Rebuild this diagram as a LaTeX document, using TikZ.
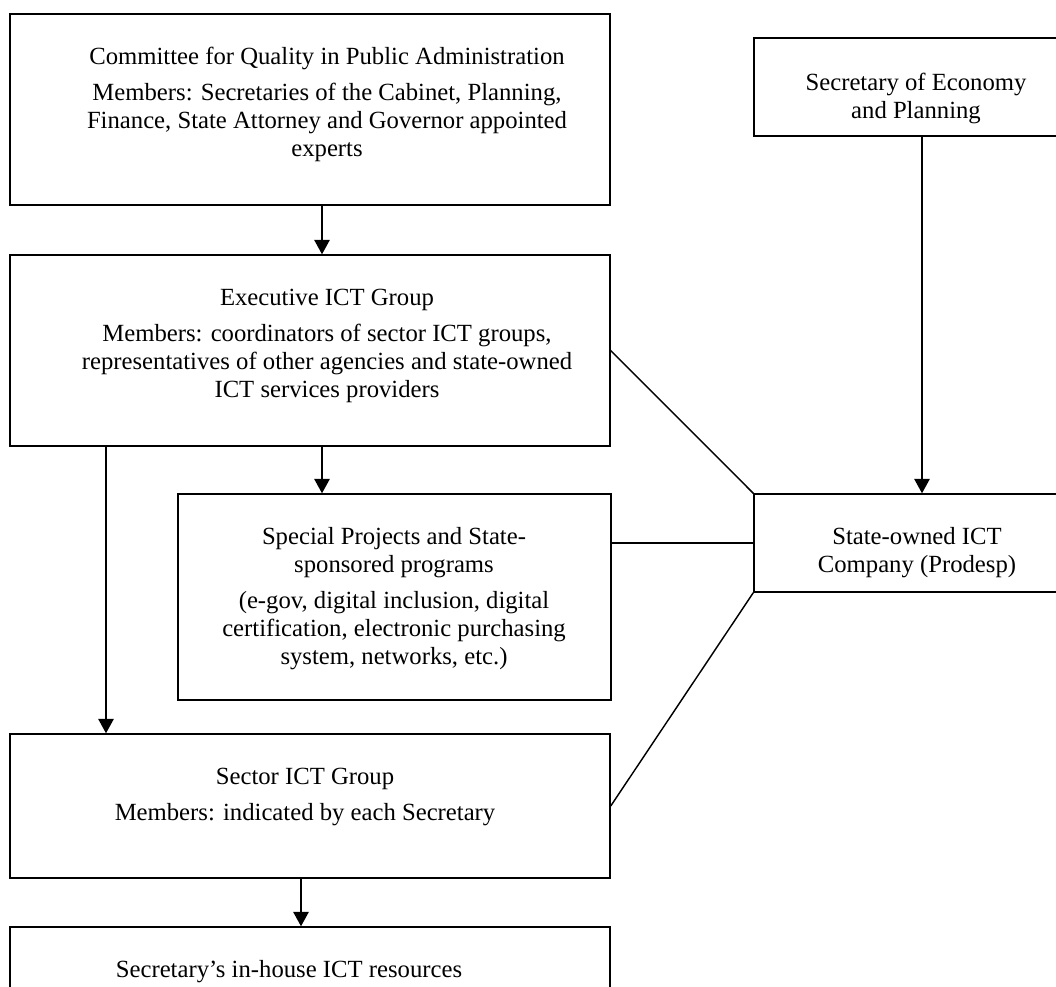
\documentclass[tikz,border=0pt]{standalone}
\usepackage{fontspec}
\setmainfont{Liberation Serif}
\usetikzlibrary{arrows.meta}
\newcommand\pxu{0.486pt}
\tikzset{
	box/.style 2 args={draw, line width=0.7pt, inner sep=0pt,
		minimum width=#1*\pxu, minimum height=#2*\pxu},
	txt/.style={align=center, inner sep=0pt, anchor=north,
		font=\fontsize{12}{13.6}\selectfont},
	link/.style={line width=0.7pt},
	arr/.style={link, -{Triangle[length=7pt,width=7.5pt]}}
}
\begin{document}
\begin{tikzpicture}[x=0.486pt,y=-0.486pt]
	\useasboundingbox (0,0) rectangle (1056,987);
	\clip (0,0) rectangle (1056,987);
	% boxes
	\node[box={600}{191}] (cqpa) at (310,109.5) {};
	\node[box={326}{98}] (econ) at (917,87) {};
	\node[box={600}{191}] (exec) at (310,350.5) {};
	\node[box={433}{206}] (spec) at (394.5,597) {};
	\node[box={326}{98}] (prod) at (917,543) {};
	\node[box={600}{144}] (sect) at (310,806) {};
	\node[box={600}{120}] (inh) at (310,987) {};
	% texts
	\node[txt] (cqpa-t) at (327,44.4) {\strut Committee for Quality in Public Administration\\[3.9pt]
		Members: Secretaries of the Cabinet, Planning,\\
		Finance, State Attorney and Governor appointed\\
		experts};
	\node[txt] (econ-t) at (916,70.4) {\strut Secretary of Economy\\ and Planning};
	\node[txt] (exec-t) at (327,285.4) {\strut Executive ICT Group\\[3.9pt]
		Members: coordinators of sector ICT groups,\\
		representatives of other agencies and state-owned\\
		ICT services providers};
	\node[txt] (spec-t) at (394,524.4) {\strut Special Projects and State-\\
		sponsored programs\\[3.9pt]
		(e-gov, digital inclusion, digital\\
		certification, electronic purchasing\\
		system, networks, etc.)};
	\node[txt] (prod-t) at (917,524.4) {\strut State-owned ICT\\ Company (Prodesp)};
	\node[txt] (sect-t) at (305,764.4) {\strut Sector ICT Group\\[3.9pt]
		Members: indicated by each Secretary};
	\node[txt] (inh-t) at (289,957.4) {\strut Secretary’s in-house ICT resources};
	% connectors
	\coordinate (xa) at (322,0);
	\coordinate (xb) at (106,0);
	\coordinate (xc) at (301,0);
	\coordinate (xd) at (922,0);
	\draw[arr] (cqpa.south -| xa) -- (exec.north -| xa);
	\draw[arr] (exec.south -| xa) -- (spec.north -| xa);
	\draw[arr] (exec.south -| xb) -- (sect.north -| xb);
	\draw[arr] (sect.south -| xc) -- (inh.north -| xc);
	\draw[arr] (econ.south -| xd) -- (prod.north -| xd);
	\draw[link] (exec.east) -- (prod.north west);
	\draw[link] (prod.west -| spec.east) -- (prod.west);
	\draw[link] (prod.south west) -- (sect.east);
\end{tikzpicture}
\end{document}
